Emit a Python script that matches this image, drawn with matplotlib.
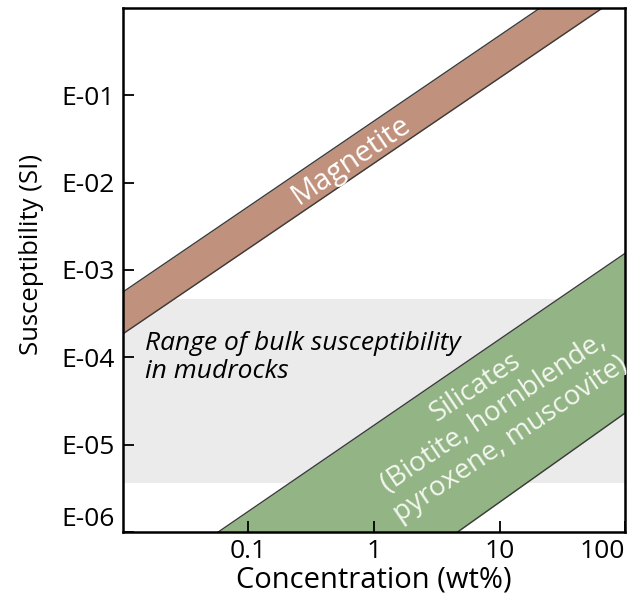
import matplotlib
matplotlib.use("Agg")
import matplotlib.pyplot as plt

plt.rcParams['font.family'] = ['Open Sans', 'DejaVu Sans']

# concentration end points (wt%) and band edges (SI)
conc = [0.01, 100]
magnetite_hi = [5.6e-4, 4.6]
magnetite_lo = [1.86e-4, 1.5]
silicate_hi = [1.79e-7, 1.55e-3]
silicate_lo = [1.9e-9, 2.3e-5]
mudrock_range = [3.6e-6, 4.6e-4]

xticks = [0.1, 1, 10, 100]
xtick_labels = ['0.1', '1', '10', '100']
yticks = [1e-6, 1e-5, 1e-4, 1e-3, 1e-2, 1e-1]
ytick_labels = ['E-06', 'E-05', 'E-04', 'E-03', 'E-02', 'E-01']

fig = plt.figure(figsize=(6.33, 5.97), dpi=100)
ax = fig.add_axes([0.1943, 0.1089, 0.7931, 0.8777])
ax.set_xscale('log')
ax.set_yscale('log')
ax.set_xlim(0.01, 100)
ax.set_ylim(1e-6, 1)

ax.axhspan(mudrock_range[0], mudrock_range[1], color='#ebebeb', lw=0, zorder=0)

ax.fill_between(conc, magnetite_lo, magnetite_hi, color='#c0917c', lw=0, zorder=1)
ax.plot(conc, magnetite_hi, color='#3a3a3a', lw=1, zorder=2)
ax.plot(conc, magnetite_lo, color='#3a3a3a', lw=1, zorder=2)

ax.fill_between(conc, silicate_lo, silicate_hi, color='#93b585', lw=0, zorder=1)
ax.plot(conc, silicate_hi, color='#3a3a3a', lw=1, zorder=2)
ax.plot(conc, silicate_lo, color='#3a3a3a', lw=1, zorder=2)

ax.text(0.65, 0.018, 'Magnetite', color='white', fontsize=21, rotation=34,
        ha='center', va='center', rotation_mode='anchor', zorder=3)
ax.text(8.9, 2.3e-5, 'Silicates\n(Biotite, hornblende,\npyroxene, muscovite)',
        color='#f4f7f0', fontsize=20, rotation=34, ha='center', va='center',
        multialignment='center', rotation_mode='anchor', linespacing=1.15, zorder=3)
ax.text(0.015, 1.0e-4, 'Range of bulk susceptibility\nin mudrocks', fontsize=19,
        style='italic', ha='left', va='center', linespacing=1.15, zorder=3)

ax.set_xticks(xticks)
ax.set_xticklabels(xtick_labels)
ax.set_yticks(yticks)
ax.set_yticklabels(ytick_labels)
ax.minorticks_off()
ax.tick_params(direction='in', length=8, width=1.3, labelsize=19, pad=5)
ax.tick_params(axis='y', pad=6)
ax.get_xticklabels()[-1].set_horizontalalignment('right')
ax.get_yticklabels()[0].set_verticalalignment('bottom')

for s in ax.spines.values():
    s.set_linewidth(1.8)

ax.set_xlabel('Concentration (wt%)', fontsize=21, labelpad=1)
ax.set_ylabel('Susceptibility (SI)', fontsize=18.5)
ax.yaxis.set_label_coords(-0.157, 0.529)

fig.savefig('out.png', dpi=100)
